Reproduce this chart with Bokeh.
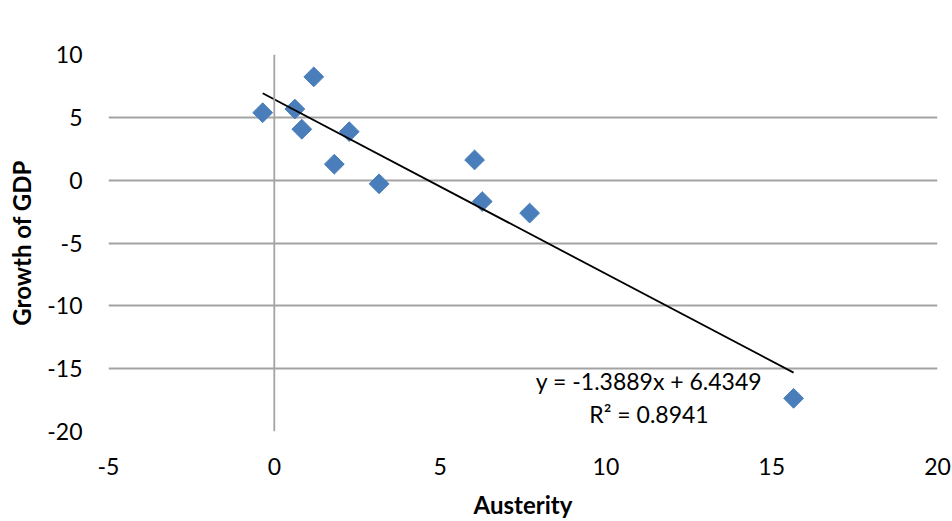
import numpy as np
from bokeh.plotting import figure
from bokeh.models import Span, Label, FixedTicker, Range1d
from bokeh.embed import file_html
from bokeh.resources import INLINE

# data
austerity = [-0.35, 0.62, 1.19, 0.83, 1.81, 2.26, 3.16, 6.04, 6.27, 7.70, 15.66]
gdp_growth = [5.37, 5.66, 8.22, 4.05, 1.27, 3.86, -0.29, 1.61, -1.70, -2.62, -17.36]
x_ticks = [-5, 0, 5, 10, 15, 20]
y_ticks = [-20, -15, -10, -5, 0, 5, 10]
slope = -1.3889
intercept = 6.4349
r_squared = 0.8941

FONT = "Lato"
GRID = "#a3a3a3"
BLUE = "#4a7ebb"

p = figure(width=952, height=521, output_backend="svg", toolbar_location=None,
           x_range=Range1d(-5, 20), y_range=Range1d(-20, 10),
           min_border_left=108, min_border_right=15, min_border_top=54, min_border_bottom=89)
p.outline_line_color = None
p.background_fill_color = "white"
p.border_fill_color = "white"

p.xgrid.visible = False
p.ygrid.grid_line_color = GRID
p.ygrid.grid_line_width = 1.8
p.ygrid.ticker = FixedTicker(ticks=y_ticks)

for ax in (p.xaxis[0], p.yaxis[0]):
    ax.axis_line_color = None
    ax.major_tick_line_color = None
    ax.minor_tick_line_color = None
    ax.major_tick_out = 0
    ax.major_tick_in = 0
    ax.major_label_text_font = FONT
    ax.major_label_text_font_size = "23px"
    ax.major_label_text_color = "#000000"
    ax.major_label_standoff = 26
    ax.axis_label_text_font = FONT
    ax.axis_label_text_font_size = "24px"
    ax.axis_label_text_font_style = "bold"
    ax.axis_label_text_color = "#000000"

p.xaxis.ticker = FixedTicker(ticks=x_ticks)
p.yaxis.ticker = FixedTicker(ticks=y_ticks)
p.xaxis.major_label_overrides = {t: str(t) for t in x_ticks}
p.yaxis.major_label_overrides = {t: str(t) for t in y_ticks}
p.xaxis.axis_label = "Austerity"
p.yaxis.axis_label = "Growth of GDP"
p.xaxis.axis_label_standoff = 12
p.yaxis.axis_label_standoff = 8

# vertical axis line at x = 0
p.add_layout(Span(location=0, dimension="height", line_color=GRID, line_width=1.8))

p.scatter(austerity, gdp_growth, marker="square", angle=np.pi / 4, size=14,
          fill_color=BLUE, line_color=BLUE)

tx = np.array([min(austerity), max(austerity)])
p.line(tx, slope * tx + intercept, line_color="black", line_width=1.8)

eq1 = f"y = {slope}x + {intercept}"
eq2 = f"R² = {r_squared}"
p.add_layout(Label(x=11.3, y=-16.0, text=eq1, text_align="center", text_baseline="middle",
                   text_font=FONT, text_font_size="23px", text_color="black"))
p.add_layout(Label(x=11.3, y=-18.6, text=eq2, text_align="center", text_baseline="middle",
                   text_font=FONT, text_font_size="23px", text_color="black"))

open("out.html", "w").write(file_html(p, INLINE))
